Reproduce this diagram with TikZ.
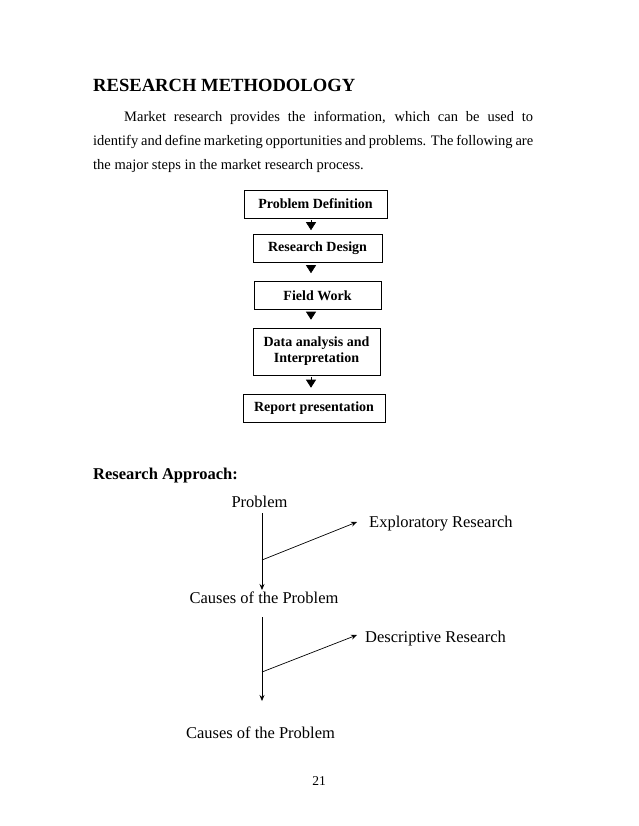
\documentclass[tikz,border=0pt]{standalone}
\usepackage{fontspec}
\setmainfont{Liberation Serif}
\usetikzlibrary{arrows.meta}
\begin{document}
\begin{tikzpicture}[x=1pt,y=-1pt,
  body/.style={font=\fontsize{14.5}{17}\selectfont, inner sep=0pt, anchor=base west},
  diag/.style={font=\fontsize{16.5}{19}\selectfont, inner sep=0pt},
  stepbox/.style={draw, line width=0.6pt, minimum height=28pt, inner sep=0pt, font=\bfseries\fontsize{14}{16}\selectfont, align=center},
  steparrow/.style={line width=0.6pt, -{Triangle[length=8pt,width=10pt]}},
  flow/.style={line width=0.7pt, -{Stealth[length=6pt,width=5pt]}}]
\useasboundingbox[fill=white] (0,0) rectangle (638,826);
% title and paragraph
\node[inner sep=0pt, anchor=base west, font=\bfseries\fontsize{18.6}{22}\selectfont] (title) at (93,92) {RESEARCH METHODOLOGY};
\node[body] (l1) at (124,122) {\makebox[409pt][s]{Market research provides the information, which can be used to}};
\node[body] (l2) at (93,146) {\makebox[440pt][s]{identify and define marketing opportunities and problems. The following are}};
\node[body] (l3) at (93,170) {the major steps in the market research process.};
% steps
\node[stepbox, minimum width=143pt] (s1) at (315.5,204) {Problem Definition};
\node[stepbox, minimum width=129pt] (s2) at (317.5,248.5) {Research Design};
\node[stepbox, minimum width=127pt] (s3) at (317.5,295.5) {Field Work};
\node[stepbox, minimum width=127pt, minimum height=47pt] (s4) at (316.5,351.5) {Data analysis and\\Interpretation};
\node[stepbox, minimum width=142pt] (s5) at (314,408) {Report presentation};
\draw[steparrow, shorten <=2pt, shorten >=4pt] (s1.south -| 311,0) -- (s2.north -| 311,0);
\draw[steparrow, shorten <=2pt, shorten >=8pt] (s2.south -| 311,0) -- (s3.north -| 311,0);
\draw[steparrow, shorten <=2pt, shorten >=8pt] (s3.south -| 311,0) -- (s4.north -| 311,0);
\draw[steparrow, shorten <=2pt, shorten >=6pt] (s4.south -| 311,0) -- (s5.north -| 311,0);
% research approach
\node[diag, anchor=base west, font=\bfseries\fontsize{16.5}{19}\selectfont] (ra) at (93,479) {Research Approach:};
\node[diag, anchor=base] (p1) at (259.5,507) {Problem};
\node[diag, anchor=base west] (er) at (369,527) {Exploratory Research};
\node[diag, anchor=base] (c1) at (264,603) {Causes of the Problem};
\node[diag, anchor=base west] (dr) at (365,642) {Descriptive Research};
\node[diag, anchor=base] (c2) at (260.5,738) {Causes of the Problem};
\coordinate (a1) at (262,513);
\coordinate (b1) at (262,590);
\coordinate (j1) at (262,560);
\coordinate (e1) at (357,522);
\coordinate (a2) at (262,617);
\coordinate (b2) at (262,701);
\coordinate (j2) at (262,672);
\coordinate (e2) at (357,635);
\draw[flow] (a1) -- (b1);
\draw[flow] (j1) -- (e1);
\draw[flow] (a2) -- (b2);
\draw[flow] (j2) -- (e2);
\node[inner sep=0pt, anchor=base, font=\fontsize{13.5}{16}\selectfont] (pg) at (319,785) {21};
\end{tikzpicture}
\end{document}
